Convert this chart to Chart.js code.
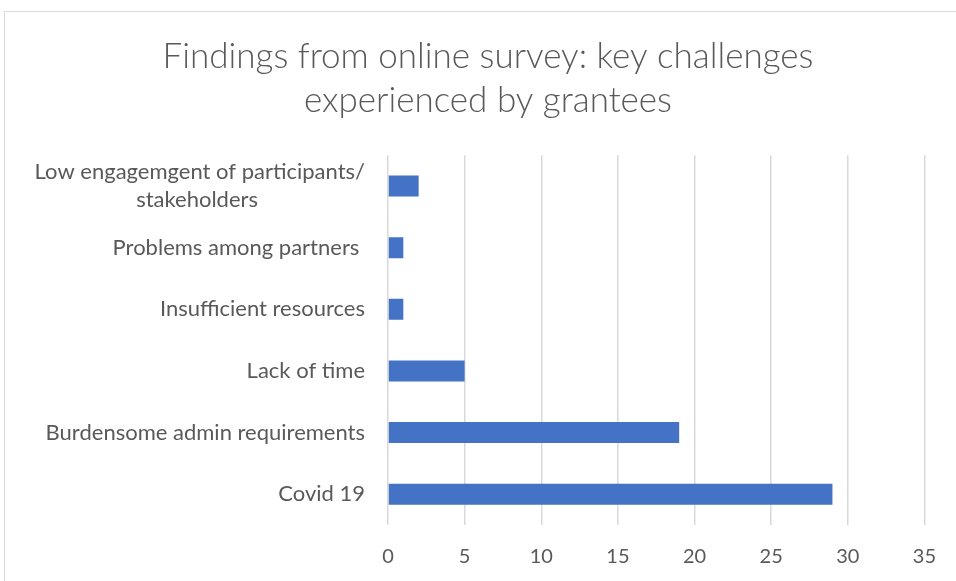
<!DOCTYPE html>
<html>
<head>
<meta charset="utf-8">
<script src="https://cdn.jsdelivr.net/npm/chart.js@4"></script>
<style>
    html, body { margin: 0; padding: 0; background: #fff; overflow: hidden; }
    #frame {
        position: absolute; left: 4px; top: 11px;
        width: 1000px; height: 600px;
        border: 1px solid #d9d9d9;
    }
    #wrap { position: absolute; left: 0; top: 0; width: 956px; height: 581px; }
</style>
</head>
<body>
<div id="frame"></div>
<div id="wrap"><canvas id="chart"></canvas></div>
<script>
// Veriler (yukarıdan aşağıya)
const categories = [
    ['Low engagemgent of participants/', 'stakeholders'],
    'Problems among partners ',
    'Insufficient resources',
    'Lack of time',
    'Burdensome admin requirements',
    'Covid 19'
];
const counts = [2, 1, 1, 5, 19, 29];
const xTicks = [0, 5, 10, 15, 20, 25, 30, 35];

const titleLines = ['Findings from online survey: key challenges', 'experienced by grantees'];
const textColor = '#595959';
const fontFamily = 'Lato, "Open Sans", sans-serif';
const labelFont = { family: fontFamily, size: 22, lineHeight: 1.3 };

// Çok satırlı etiketleri ortala (kısa satırın sonuna boşluk ekle)
function centerLines(label) {
    if (!Array.isArray(label)) return label;
    const m = document.createElement('canvas').getContext('2d');
    m.font = labelFont.size + 'px ' + fontFamily;
    const widths = label.map(l => m.measureText(l).width);
    const maxW = Math.max(...widths);
    const sp = m.measureText(' ').width;
    return label.map((l, i) => l + ' '.repeat(Math.round((maxW - widths[i]) / 2 / sp)));
}

// Başlığı grafiğin ortasına kaydır
const titleShift = {
    id: 'titleShift',
    afterLayout(chart) {
        const t = chart.titleBlock;
        if (!t) return;
        const dx = 488 - (t.left + t.right) / 2;
        t.left += dx;
        t.right += dx;
    }
};

const ctx = document.getElementById('chart').getContext('2d');

new Chart(ctx, {
    type: 'bar',
    data: {
        labels: categories,
        datasets: [{
            label: 'Count',
            data: counts,
            backgroundColor: '#4472C4',
            borderWidth: 0,
            categoryPercentage: 1,
            barPercentage: 0.34
        }]
    },
    plugins: [titleShift],
    options: {
        indexAxis: 'y',
        responsive: true,
        maintainAspectRatio: false,
        animation: false,
        layout: {
            padding: { left: 10, right: 24, top: 0, bottom: 0 }
        },
        plugins: {
            legend: { display: false },
            tooltip: { enabled: false },
            title: {
                display: true,
                text: titleLines,
                color: textColor,
                font: { family: fontFamily, size: 35, weight: '300', lineHeight: 1.26 },
                padding: { top: 35, bottom: 32 }
            }
        },
        scales: {
            x: {
                min: 0,
                max: 35,
                afterBuildTicks: (scale) => {
                    scale.ticks = xTicks.map(v => ({ value: v }));
                },
                grid: {
                    color: '#d9d9d9',
                    lineWidth: 1.5,
                    drawTicks: false
                },
                border: { display: false },
                ticks: {
                    color: textColor,
                    padding: 20,
                    font: { family: fontFamily, size: 20 }
                },
                afterFit: (scale) => { scale.height = 56; }
            },
            y: {
                grid: { display: false, drawTicks: false },
                border: { display: false },
                ticks: {
                    color: textColor,
                    padding: 23,
                    font: labelFont,
                    callback: function (value) {
                        return centerLines(categories[value]);
                    }
                },
                afterFit: (scale) => { scale.width = 378; }
            }
        }
    }
});
</script>
</body>
</html>
